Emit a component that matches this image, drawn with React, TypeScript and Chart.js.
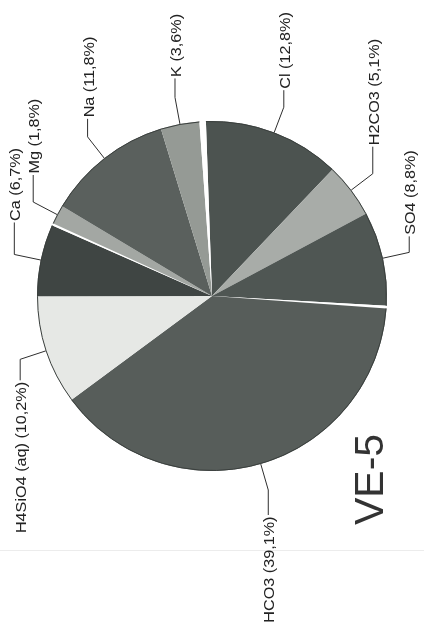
import React, { useEffect, useRef } from "react";
import { Chart, registerables } from "chart.js";

Chart.register(...registerables);

// Species (empty names = thin unlabeled white wedges seen in the scan)
const species = ["Cl", "H2CO3", "SO4", "", "HCO3", "H4SiO4 (aq)", "Ca", "", "Mg", "Na", "K", ""];
const percents = [12.8, 5.1, 8.8, 0.25, 39.1, 10.2, 6.7, 0.2, 1.8, 11.8, 3.6, 0.6];
const sliceColors = [
  "#4c5350", "#a8aca8", "#4f5653", "#ffffff", "#575d5a", "#e6e8e5",
  "#3f4543", "#ffffff", "#a3a7a3", "#5a605d", "#959a95", "#ffffff",
];
const chartTitle = "VE-5";

// label layout (leader leg length after the elbow)
const leaderLegs = [17, 27, 16, 0, 25, 21, 32, 0, 27, 18, 19, 0];

const fmt = (v: number) => v.toFixed(1).replace(".", ",") + "%";
const labelTexts = species.map((s, i) => (s ? `${s} (${fmt(percents[i])})` : ""));

const FONT = '"Liberation Sans", Arial, sans-serif';

const decorPlugin = {
  id: "decor",
  beforeDraw(chart: any) {
    const ctx = chart.ctx;
    ctx.save();
    ctx.strokeStyle = "#ececec";
    ctx.lineWidth = 1;
    ctx.beginPath();
    ctx.moveTo(0, 550.5);
    ctx.lineTo(chart.width, 550.5);
    ctx.stroke();
    ctx.restore();
  },
  afterDatasetsDraw(chart: any) {
    const ctx = chart.ctx;
    const meta = chart.getDatasetMeta(0);
    ctx.save();
    ctx.strokeStyle = "#3a3f3d";
    ctx.lineWidth = 1;
    meta.data.forEach((arc: any, i: number) => {
      if (!species[i]) return;
      const p = arc.getProps(["x", "y", "startAngle", "endAngle", "outerRadius"], true);
      ctx.beginPath();
      ctx.arc(p.x, p.y, p.outerRadius - 0.5, p.startAngle, p.endAngle);
      ctx.stroke();
    });
    ctx.restore();
  },
  afterDraw(chart: any) {
    const ctx = chart.ctx;
    const meta = chart.getDatasetMeta(0);
    ctx.save();
    meta.data.forEach((arc: any, i: number) => {
      const text = labelTexts[i];
      if (!text) return;
      const p = arc.getProps(["x", "y", "startAngle", "endAngle", "outerRadius"], true);
      const mid = (p.startAngle + p.endAngle) / 2;
      const c = Math.cos(mid);
      const s = Math.sin(mid);
      const x0 = p.x + p.outerRadius * c;
      const y0 = p.y + p.outerRadius * s;
      const x1 = p.x + (p.outerRadius + 27) * c;
      const y1 = p.y + (p.outerRadius + 27) * s;
      const up = s < 0;
      const dir = up ? -1 : 1;
      const y2 = y1 + dir * leaderLegs[i];
      ctx.strokeStyle = "#2e2e2e";
      ctx.lineWidth = 1;
      ctx.beginPath();
      ctx.moveTo(x0, y0);
      ctx.lineTo(x1, y1);
      ctx.lineTo(x1, y2);
      ctx.stroke();

      ctx.save();
      ctx.translate(x1, y2 + dir * 1.5);
      ctx.rotate(-Math.PI / 2);
      ctx.scale(1.08, 1);
      ctx.fillStyle = "#222222";
      ctx.font = `15px ${FONT}`;
      ctx.textAlign = up ? "left" : "right";
      ctx.textBaseline = "middle";
      ctx.fillText(text, 0, 2);
      ctx.restore();
    });

    // title
    ctx.save();
    ctx.translate(383, 525);
    ctx.rotate(-Math.PI / 2);
    ctx.fillStyle = "#333333";
    ctx.font = `41px ${FONT}`;
    ctx.textAlign = "left";
    ctx.textBaseline = "alphabetic";
    ctx.fillText(chartTitle, 0, 0);
    ctx.restore();
    ctx.restore();
  },
};

export default function App() {
  const ref = useRef<HTMLCanvasElement | null>(null);
  useEffect(() => {
    if (!ref.current) return;
    const chart = new Chart(ref.current, {
      type: "pie",
      data: {
        labels: labelTexts,
        datasets: [
          {
            data: percents,
            backgroundColor: sliceColors,
            borderWidth: 0,
          },
        ],
      },
      options: {
        animation: false,
        responsive: false,
        devicePixelRatio: 1,
        rotation: -2,
        radius: 175,
        layout: { padding: { left: 0, right: 0, top: 0, bottom: 35 } },
        plugins: {
          legend: { display: false },
          tooltip: { enabled: false },
          title: { display: false },
        },
      },
      plugins: [decorPlugin],
    });
    return () => chart.destroy();
  }, []);
  return (
    <div style={{ position: "fixed", left: 0, top: 0, width: 424, height: 627, background: "#ffffff" }}>
      <canvas ref={ref} width={424} height={627} />
    </div>
  );
}
